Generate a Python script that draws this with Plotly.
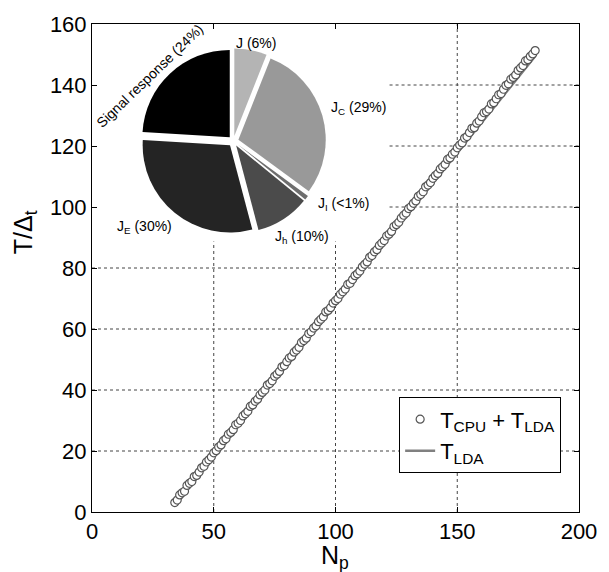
import plotly.graph_objects as go

# ---------------- data ----------------
Np = list(range(34, 183))
T_cpu_lda = [
    3.1, 3.9, 5.6, 6.3, 6.8, 8.7, 9.4, 10.0, 11.6, 12.0,
    13.1, 14.5, 15.0, 16.4, 17.1, 18.0, 19.4, 20.1, 21.3, 22.0,
    23.4, 24.0, 25.5, 26.1, 27.0, 28.6, 29.1, 30.0, 31.5, 32.2,
    33.0, 34.6, 35.1, 36.3, 37.0, 38.4, 39.2, 40.0, 41.6, 42.1,
    43.0, 44.5, 45.2, 46.1, 47.6, 48.0, 49.3, 50.5, 51.0, 52.4,
    53.1, 54.0, 55.6, 56.2, 57.0, 58.5, 59.1, 60.3, 61.0, 62.4,
    63.2, 64.0, 65.6, 66.1, 67.0, 68.5, 69.3, 70.0, 71.4, 72.2,
    73.1, 74.6, 75.0, 76.2, 77.5, 78.1, 79.0, 80.4, 81.2, 82.0,
    83.5, 84.1, 85.3, 86.0, 87.4, 88.2, 89.0, 90.5, 91.1, 92.0,
    93.6, 94.2, 95.0, 96.4, 97.3, 98.0, 99.5, 100.1, 101.2, 102.0,
    103.5, 104.1, 105.0, 106.6, 107.2, 108.0, 109.4, 110.3, 111.0, 112.5,
    113.2, 114.0, 115.6, 116.1, 117.3, 118.0, 119.4, 120.3, 121.0, 122.6,
    123.1, 124.4, 125.8, 126.0, 127.5, 128.2, 129.6, 130.9, 131.3, 132.1,
    133.8, 134.2, 135.5, 136.8, 137.2, 138.6, 139.9, 140.4, 141.9, 142.5,
    143.3, 144.8, 145.6, 146.4, 147.9, 148.3, 149.4, 150.2, 151.3,
]
Np_lda = [34, 50, 70, 90, 110, 130, 150, 170, 182]
T_lda = [2.0, 18.3, 38.4, 58.3, 78.1, 97.9, 117.8, 137.6, 149.4]

pie_labels = ["J (6%)", "J<sub>C</sub> (29%)", "J<sub>I</sub> (<1%)",
              "J<sub>h</sub> (10%)", "J<sub>E</sub> (30%)", "Signal response (24%)"]
pie_values = [6, 29, 0.8, 10, 30, 24]
pie_colors = ["#b4b4b4", "#999999", "#6e6e6e", "#4b4b4b", "#242424", "#000000"]

x_ticks = [0, 50, 100, 150, 200]
y_ticks = [0, 20, 40, 60, 80, 100, 120, 140, 160]
X_RANGE = [0, 200]
Y_RANGE = [0, 160]

# ---------------- layout geometry (pixels) ----------------
W, H = 609, 572
ML, MR, MT, MB = 92, 26, 14, 60
PW, PH = W - ML - MR, H - MT - MB

def px(x):
    return (x - ML) / PW

def py(y):
    return (H - MB - y) / PH

FONT = "Liberation Sans, Arial, sans-serif"

# inset (pie) region that hides the grid, in pixels
INSET_RIGHT_PX, INSET_BOTTOM_PX = 392, 236

fig = go.Figure()

fig.add_trace(go.Scatter(
    x=Np_lda, y=T_lda, mode="lines",
    line=dict(color="#808080", width=2.5),
    name="T<sub>LDA</sub>",
))
fig.add_trace(go.Scatter(
    x=Np, y=T_cpu_lda, mode="markers",
    marker=dict(symbol="circle", size=8, color="white",
                line=dict(color="#555555", width=1.2)),
    name="T<sub>CPU</sub> + T<sub>LDA</sub>",
))

fig.add_trace(go.Pie(
    labels=pie_labels, values=pie_values,
    marker=dict(colors=pie_colors, line=dict(width=0)),
    sort=False, direction="clockwise", rotation=0,
    pull=[0.06] * len(pie_values),
    textinfo="none", hoverinfo="label",
    showlegend=False,
    domain=dict(x=[px(140), px(329)], y=[py(228), py(39)]),
))

axis_common = dict(
    showline=True, linecolor="black", linewidth=1, mirror="ticks",
    ticks="inside", ticklen=5, tickcolor="black",
    showgrid=False, zeroline=False,
    tickfont=dict(family=FONT, size=22, color="black"),
)

# grid lines as dotted shapes, skipping the pie inset region
inset_x_val = X_RANGE[0] + px(INSET_RIGHT_PX) * (X_RANGE[1] - X_RANGE[0])
inset_y_val = Y_RANGE[0] + py(INSET_BOTTOM_PX) * (Y_RANGE[1] - Y_RANGE[0])
grid_style = dict(color="#444444", width=1, dash="dot")
shapes = []
for xv in x_ticks[1:-1]:
    y1 = inset_y_val if xv < inset_x_val else Y_RANGE[1]
    shapes.append(dict(type="line", xref="x", yref="y", x0=xv, x1=xv,
                       y0=Y_RANGE[0], y1=y1, line=grid_style, layer="below"))
for yv in y_ticks[1:-1]:
    x0 = inset_x_val if yv > inset_y_val else X_RANGE[0]
    shapes.append(dict(type="line", xref="x", yref="y", x0=x0, x1=X_RANGE[1],
                       y0=yv, y1=yv, line=grid_style, layer="below"))

fig.update_layout(
    width=W, height=H,
    margin=dict(l=ML, r=MR, t=MT, b=MB),
    paper_bgcolor="white", plot_bgcolor="white",
    font=dict(family=FONT, color="black"),
    xaxis=dict(range=X_RANGE, tickvals=x_ticks, **axis_common),
    yaxis=dict(range=Y_RANGE, tickvals=y_ticks, **axis_common),
    legend=dict(
        x=px(565), y=py(395), xanchor="right", yanchor="top",
        bgcolor="white", bordercolor="black", borderwidth=1,
        font=dict(family=FONT, size=22, color="black"),
        traceorder="reversed",
        itemwidth=30,
    ),
    shapes=shapes,
)

annots = [
    dict(text="N<sub>p</sub>", x=px(337), y=py(558), size=25, angle=0),
    dict(text="T/Δ<sub>t</sub>", x=px(24), y=py(227), size=25, angle=-90),
    dict(text="J (6%)", x=px(257), y=py(33), size=14, angle=0),
    dict(text="J<sub>C</sub> (29%)", x=px(361), y=py(100), size=14, angle=0),
    dict(text="J<sub>I</sub> (<1%)", x=px(346), y=py(198), size=14, angle=0),
    dict(text="J<sub>h</sub> (10%)", x=px(304), y=py(231), size=14, angle=0),
    dict(text="J<sub>E</sub> (30%)", x=px(145), y=py(221), size=14, angle=0),
    dict(text="Signal response (24%)", x=px(150), y=py(67), size=14, angle=-44),
]
for a in annots:
    fig.add_annotation(
        text=a["text"], x=a["x"], y=a["y"], xref="paper", yref="paper",
        xanchor="center", yanchor="middle", showarrow=False,
        textangle=a["angle"], font=dict(family=FONT, size=a["size"], color="black"),
    )

fig.write_html("out.html")
